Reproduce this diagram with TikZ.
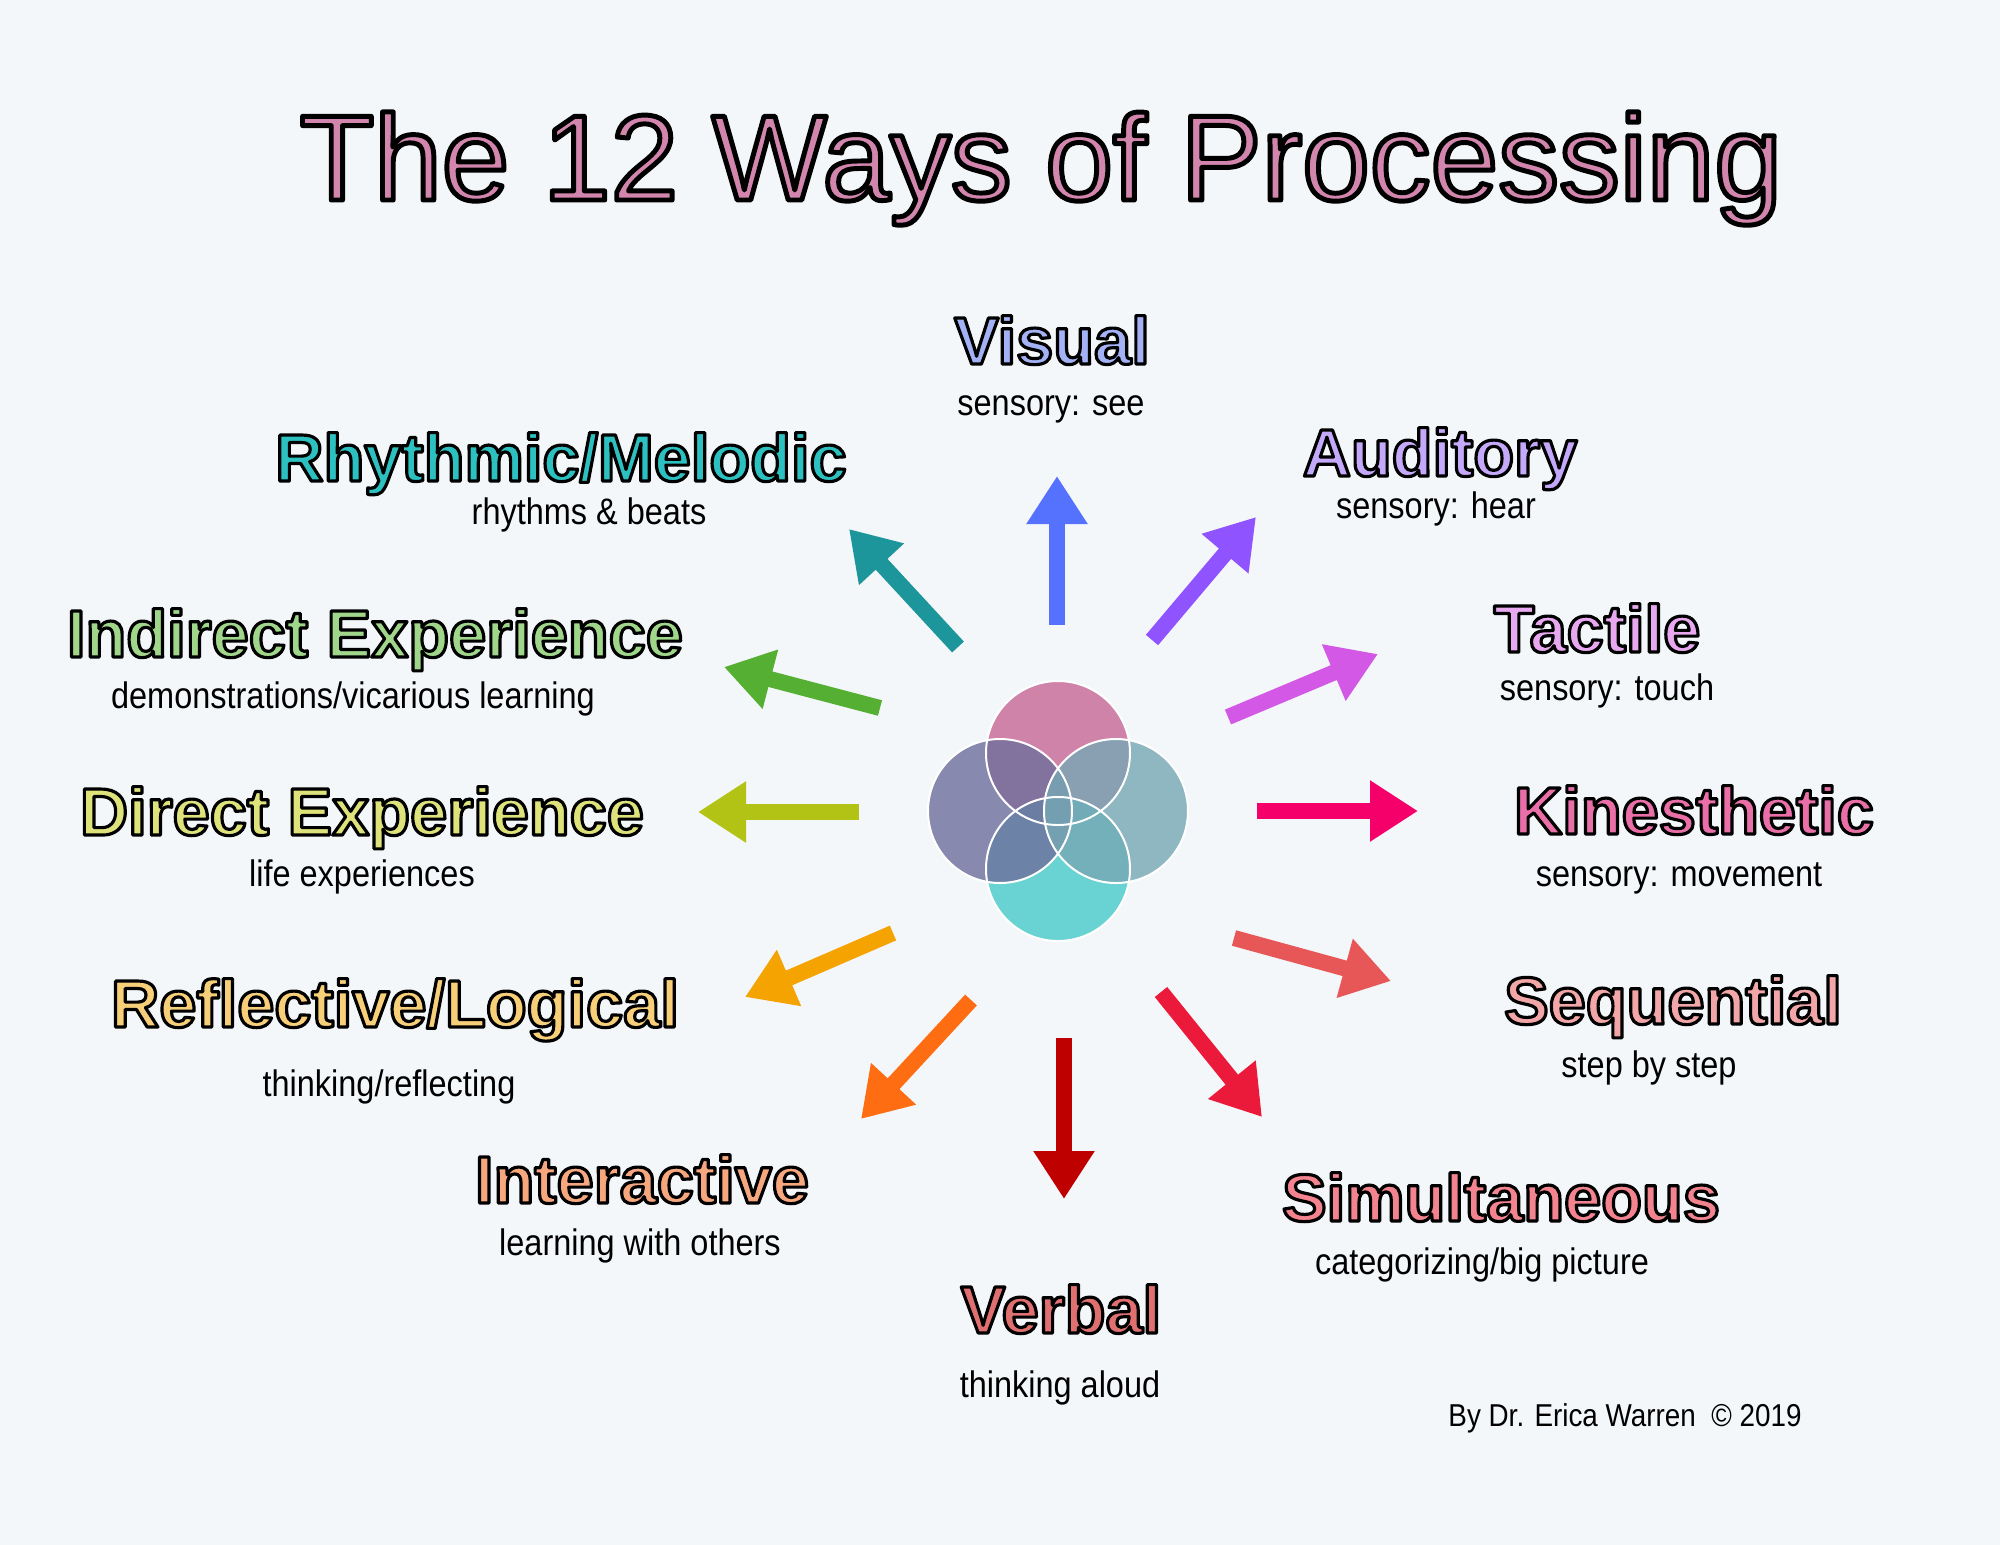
\documentclass[tikz,border=0pt]{standalone}
\usepackage{fontspec}
\setmainfont{Liberation Sans}
\newfontfamily\subfont[FakeStretch=0.88]{Liberation Sans}
\usetikzlibrary{arrows.meta}
% outlined text: fill in the current colour, black stroke round the glyphs
\newcommand{\outlined}[2]{\special{pdf:literal direct 2 Tr #1 w 1 j 0 0 0 RG}#2\special{pdf:literal direct 0 Tr}}
\definecolor{bg}{HTML}{F4F7FA}
\definecolor{titlepink}{HTML}{D386AD}
% label colours
\definecolor{cVisual}{HTML}{A3B1F5}
\definecolor{cAuditory}{HTML}{C4A8FA}
\definecolor{cTactile}{HTML}{E8A8F0}
\definecolor{cKin}{HTML}{EA6FA8}
\definecolor{cSeq}{HTML}{F2A6A8}
\definecolor{cSim}{HTML}{F2838F}
\definecolor{cVerbal}{HTML}{E07070}
\definecolor{cInter}{HTML}{F7A77E}
\definecolor{cRefl}{HTML}{F7CF78}
\definecolor{cDirect}{HTML}{DDE37A}
\definecolor{cIndirect}{HTML}{A0D68A}
\definecolor{cRhythm}{HTML}{2DC0C0}
% arrow colours
\definecolor{aVisual}{HTML}{5572FF}
\definecolor{aAuditory}{HTML}{8F53FF}
\definecolor{aTactile}{HTML}{D458E6}
\definecolor{aKin}{HTML}{F5006B}
\definecolor{aSeq}{HTML}{E85757}
\definecolor{aSim}{HTML}{EC1A3A}
\definecolor{aVerbal}{HTML}{BF0000}
\definecolor{aInter}{HTML}{FF6D12}
\definecolor{aRefl}{HTML}{F5A300}
\definecolor{aDirect}{HTML}{B3C315}
\definecolor{aIndirect}{HTML}{55AF32}
\definecolor{aRhythm}{HTML}{1C959B}
% venn colours
\definecolor{vTop}{HTML}{C86695}
\definecolor{vBottom}{HTML}{46CAC9}
\definecolor{vLeft}{HTML}{6E6E9C}
\definecolor{vRight}{HTML}{76A8B5}

\begin{document}
\begin{tikzpicture}[x=0.1mm, y=-0.1mm,
  way/.style={anchor=base, inner sep=0pt, font=\fontsize{19}{22}\selectfont\bfseries},
  sub/.style={anchor=base, inner sep=0pt, font=\subfont\fontsize{10.5}{12}\selectfont},
  bigarrow/.style={line width=1.6mm, -{Triangle[length=4.8mm, width=5.8mm]}}]
  \fill[bg] (0,0) rectangle (2000,1545);
  \useasboundingbox (0,0) rectangle (2000,1545);

  % title
  \node[anchor=base, inner sep=0pt, font=\fontsize{34.6}{40}\selectfont, titlepink] (title) at (1041,200) {\outlined{1.4}{The 12 Ways of Processing}};

  % overlapping circles in the middle
  \foreach \col/\cx/\cy in {vTop/1058/753, vBottom/1058/869, vLeft/1000/811, vRight/1116/811}
    \fill[\col, fill opacity=0.8] (\cx,\cy) circle[radius=72];
  \foreach \cx/\cy in {1058/753, 1058/869, 1000/811, 1116/811}
    \draw[white, line width=0.2mm] (\cx,\cy) circle[radius=72];

  % arrows out of the middle
  \foreach \nm/\col/\sx/\sy/\ex/\ey in {
      vis/aVisual/1057/625/1057/476, aud/aAuditory/1152/640/1256/517,
      tac/aTactile/1228/717/1378/654, kin/aKin/1257/811/1418/811,
      seq/aSeq/1234/938/1391/981, sim/aSim/1161/992/1262/1117,
      verb/aVerbal/1064/1038/1064/1199, int/aInter/971/1000/861/1119,
      ref/aRefl/893/933/745/997, dir/aDirect/859/812/698/812,
      ind/aIndirect/880/708/724/667, rhy/aRhythm/958/647/849/529} {
    \coordinate (\nm s) at (\sx,\sy);
    \coordinate (\nm e) at (\ex,\ey);
    \draw[bigarrow, \col] (\nm s) -- (\nm e);
  }

  % the twelve ways
  \node[way, cVisual] (visual) at (1052,364) {\outlined{0.9}{Visual}};
  \node[sub] (visualsub) at (1051,415) {sensory: see};
  \node[way, cAuditory] (auditory) at (1440,476) {\outlined{0.9}{Auditory}};
  \node[sub] (auditorysub) at (1436,518) {sensory: hear};
  \node[way, cTactile] (tactile) at (1597,652) {\outlined{0.9}{Tactile}};
  \node[sub] (tactilesub) at (1607,700) {sensory: touch};
  \node[way, cKin] (kinesthetic) at (1694,834) {\outlined{0.9}{Kinesthetic}};
  \node[sub] (kinestheticsub) at (1679,886) {sensory: movement};
  \node[way, cSeq] (sequential) at (1673,1024) {\outlined{0.9}{Sequential}};
  \node[sub] (sequentialsub) at (1649,1077) {step by step};
  \node[way, cSim] (simultaneous) at (1501,1221) {\outlined{0.9}{Simultaneous}};
  \node[sub] (simultaneoussub) at (1482,1274) {categorizing/big picture};
  \node[way, cVerbal] (verbal) at (1061,1333) {\outlined{0.9}{Verbal}};
  \node[sub] (verbalsub) at (1060,1397) {thinking aloud};
  \node[way, cInter] (interactive) at (642,1203) {\outlined{0.9}{Interactive}};
  \node[sub] (interactivesub) at (640,1255) {learning with others};
  \node[way, cRefl] (reflective) at (395,1027) {\outlined{0.9}{Reflective/Logical}};
  \node[sub] (reflectivesub) at (389,1096) {thinking/reflecting};
  \node[way, cDirect] (direct) at (362,835) {\outlined{0.9}{Direct Experience}};
  \node[sub] (directsub) at (362,886) {life experiences};
  \node[way, cIndirect] (indirect) at (375,657) {\outlined{0.9}{Indirect Experience}};
  \node[sub] (indirectsub) at (353,708) {demonstrations/vicarious learning};
  \node[way, cRhythm] (rhythmic) at (561,481) {\outlined{0.9}{Rhythmic/Melodic}};
  \node[sub] (rhythmicsub) at (589,524) {rhythms \& beats};

  % credit
  \node[anchor=base, inner sep=0pt, font=\subfont\fontsize{9}{11}\selectfont] (credit) at (1625,1426) {By Dr. Erica Warren \ © 2019};
\end{tikzpicture}
\end{document}
